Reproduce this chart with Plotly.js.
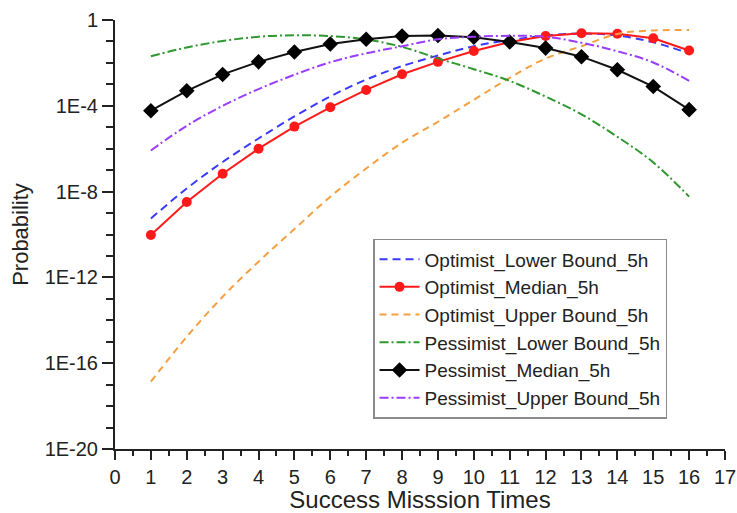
<!DOCTYPE html>
<html>
<head>
<meta charset="utf-8">
<script src="https://cdn.plot.ly/plotly-3.0.1.min.js"></script>
<style>html,body{margin:0;padding:0;background:#fff;}#chart{width:737px;height:513px;}</style>
</head>
<body>
<div id="chart"></div>
<script>
const missionTimes = [1,2,3,4,5,6,7,8,9,10,11,12,13,14,15,16];

const optimistLower = [5.6e-10,1.4e-8,2.4e-7,3.0e-6,3.2e-5,2.75e-4,1.66e-3,7.1e-3,2.2e-2,6.0e-2,0.117,0.186,0.234,0.19,0.091,0.028];
const optimistMedian = [9.5e-11,3.3e-9,6.8e-8,1.0e-6,1.07e-5,8.5e-5,5.5e-4,2.95e-3,1.12e-2,3.6e-2,9.5e-2,0.178,0.24,0.229,0.141,0.038];
const optimistUpper = [1.4e-17,1.7e-15,1.26e-13,5.4e-12,1.8e-10,5.8e-9,1.2e-7,1.9e-6,1.8e-5,1.9e-4,2.0e-3,1.6e-2,6.0e-2,0.224,0.324,0.339];
const pessimistLower = [0.0204,0.0525,0.105,0.166,0.195,0.178,0.123,0.056,0.0162,5.1e-3,1.45e-3,2.7e-4,4.0e-5,3.6e-6,2.3e-7,5.8e-9];
const pessimistMedian = [5.9e-5,5.0e-4,2.9e-3,0.0112,0.0324,0.076,0.126,0.178,0.19,0.158,0.095,0.049,0.0195,4.8e-3,7.9e-4,6.6e-5];
const pessimistUpper = [8.3e-7,1.17e-5,1.0e-4,6.0e-4,2.8e-3,0.0107,0.028,0.060,0.126,0.166,0.182,0.166,0.087,0.035,0.0105,1.45e-3];

const seriesNames = ["Optimist_Lower Bound_5h","Optimist_Median_5h","Optimist_Upper Bound_5h","Pessimist_Lower Bound_5h","Pessimist_Median_5h","Pessimist_Upper Bound_5h"];

const yTickVals = [1e-20,1e-16,1e-12,1e-8,1e-4,1];
const yTickText = ["1E-20","1E-16","1E-12","1E-8","1E-4","1"];
const yMinorVals = [];
for (let e = -20; e <= 0; e++) { if (e % 4 !== 0) yMinorVals.push(Math.pow(10, e)); }
const xTickVals = [0,1,2,3,4,5,6,7,8,9,10,11,12,13,14,15,16,17];

const FONT = "Arial, 'Liberation Sans', sans-serif";
const INK = "#222222";

const traces = [
  {x: missionTimes, y: optimistLower, name: seriesNames[0], mode: "lines",
   line: {color: "#3a3aff", width: 2, dash: "8px,5px", shape: "spline"}},
  {x: missionTimes, y: optimistMedian, name: seriesNames[1], mode: "lines+markers",
   line: {color: "#ff1a1a", width: 2}, marker: {symbol: "circle", size: 10, color: "#ff1a1a"}},
  {x: missionTimes, y: optimistUpper, name: seriesNames[2], mode: "lines",
   line: {color: "#f5a040", width: 2, dash: "7px,5px", shape: "spline"}},
  {x: missionTimes, y: pessimistLower, name: seriesNames[3], mode: "lines",
   line: {color: "#2f982f", width: 2, dash: "9px,3px,2px,3px", shape: "spline"}},
  {x: missionTimes, y: pessimistMedian, name: seriesNames[4], mode: "lines+markers",
   line: {color: "#111111", width: 2}, marker: {symbol: "diamond", size: 12, color: "#000000"}},
  {x: missionTimes, y: pessimistUpper, name: seriesNames[5], mode: "lines",
   line: {color: "#9a3dff", width: 2, dash: "9px,3px,2px,3px", shape: "spline"}}
];

const layout = {
  width: 737, height: 513,
  margin: {l: 115, r: 12, t: 20, b: 64},
  paper_bgcolor: "#ffffff", plot_bgcolor: "#ffffff",
  font: {family: FONT, size: 19, color: INK},
  showlegend: true,
  legend: {
    x: 0.423, y: 0.49, xanchor: "left", yanchor: "top",
    bgcolor: "#ffffff", bordercolor: "#8a8a8a", borderwidth: 1.5,
    font: {family: FONT, size: 19, color: INK},
    tracegroupgap: 0, itemwidth: 40
  },
  xaxis: {
    range: [0, 17], tickmode: "array", tickvals: xTickVals,
    showline: true, linecolor: INK, linewidth: 2, mirror: false,
    ticks: "outside", ticklen: 9, tickwidth: 2, tickcolor: INK,
    minor: {tickmode: "linear", tick0: 0.5, dtick: 1, ticks: "outside", ticklen: 5, tickwidth: 2, tickcolor: INK},
    showgrid: false, zeroline: false,
    tickfont: {family: FONT, size: 20, color: INK},
    title: {text: "Success Misssion Times", font: {family: FONT, size: 24, color: INK}, standoff: 12}
  },
  yaxis: {
    type: "log", range: [-20, 0], tickmode: "array", tickvals: yTickVals, ticktext: yTickText,
    showline: true, linecolor: INK, linewidth: 2, mirror: false,
    ticks: "outside", ticklen: 11, tickwidth: 2, tickcolor: INK,
    minor: {tickmode: "array", tickvals: yMinorVals, ticks: "outside", ticklen: 7, tickwidth: 2, tickcolor: INK},
    showgrid: false, zeroline: false,
    tickfont: {family: FONT, size: 20, color: INK},
    title: {text: "Probability", font: {family: FONT, size: 22, color: INK}, standoff: 10}
  }
};

Plotly.newPlot("chart", traces, layout, {displayModeBar: false, staticPlot: true});
</script>
</body>
</html>
